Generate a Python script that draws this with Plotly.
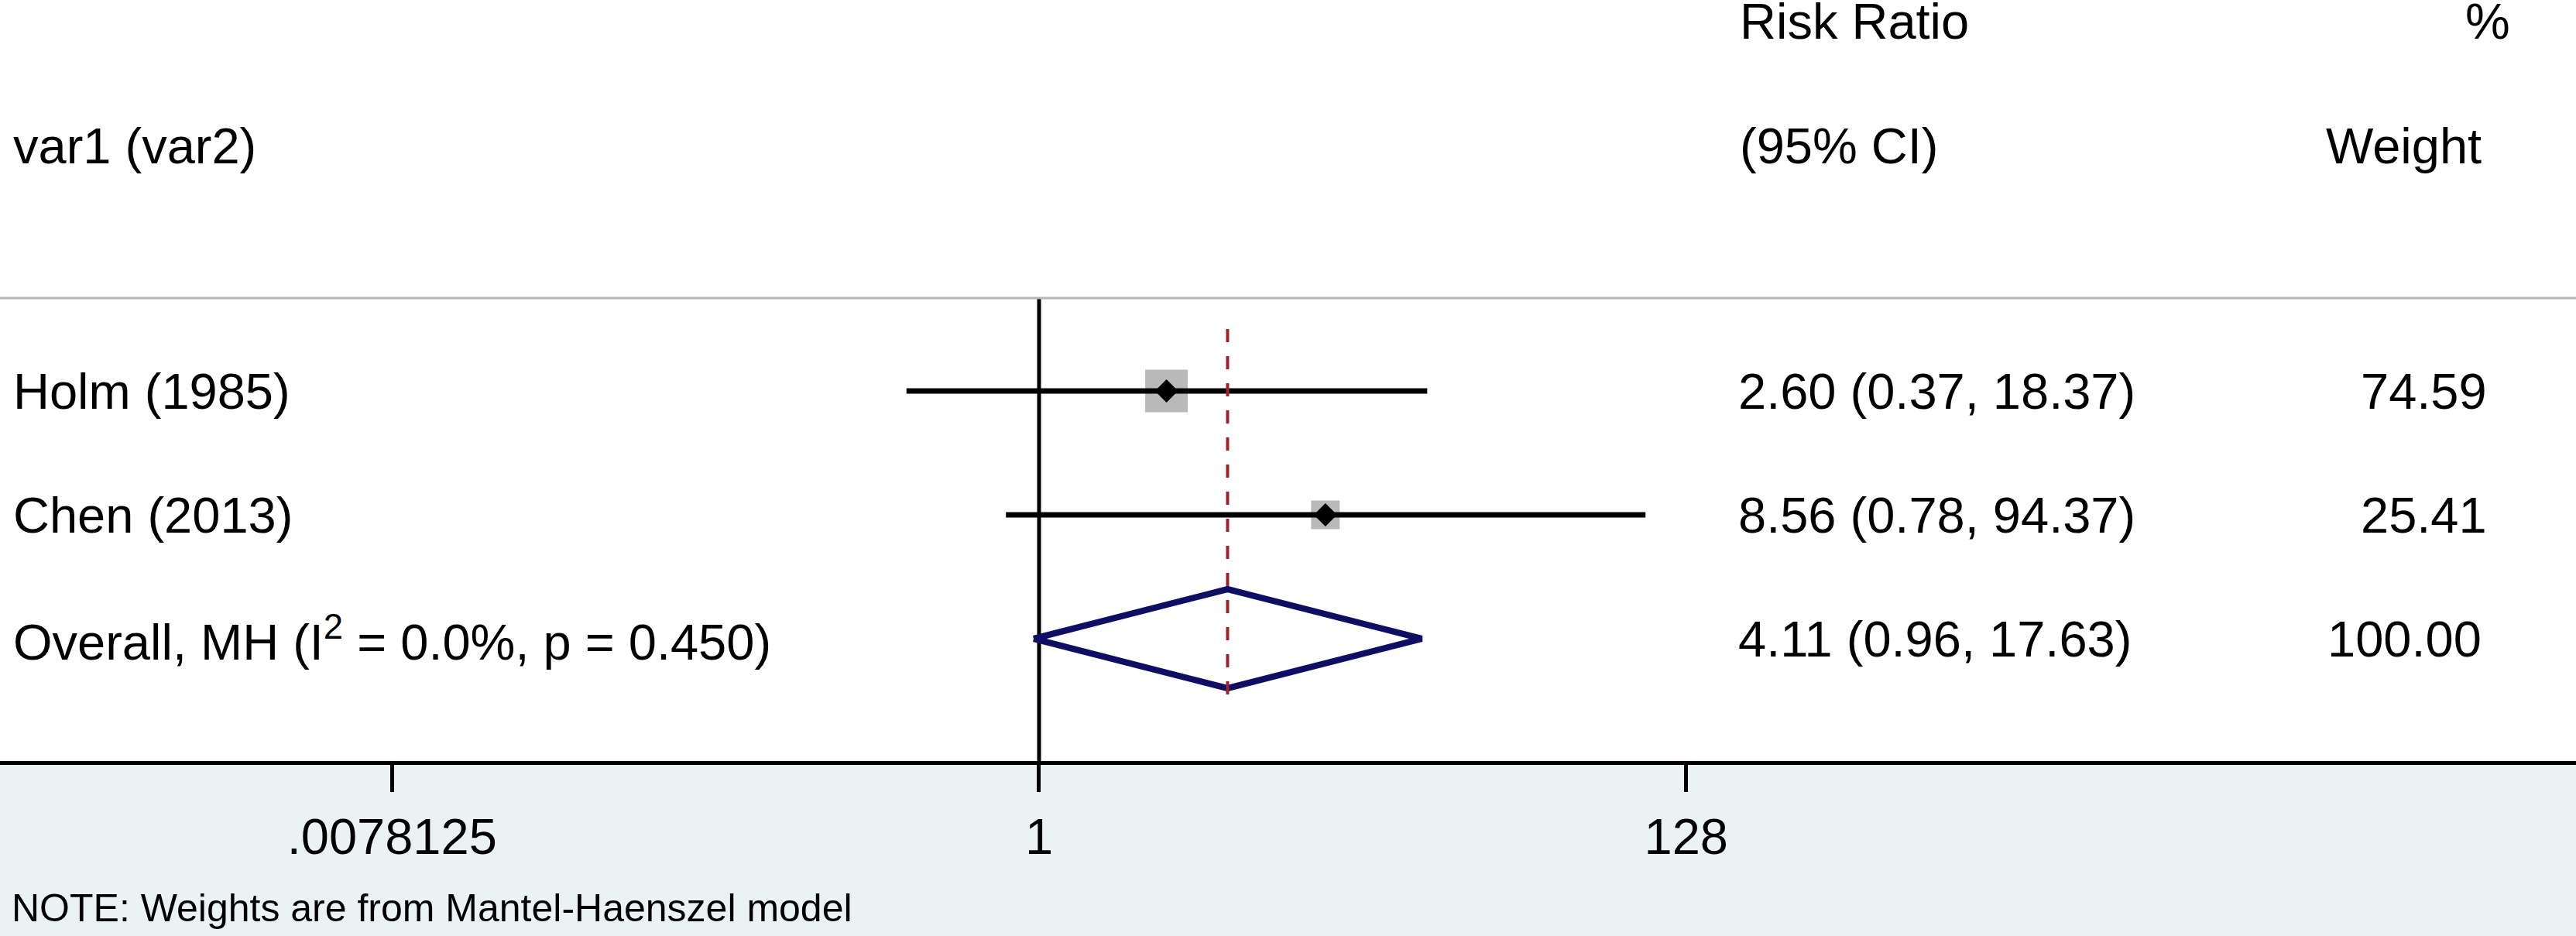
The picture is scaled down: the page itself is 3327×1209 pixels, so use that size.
import plotly.graph_objects as go

# ---------------- data ----------------
studies = ["Holm (1985)", "Chen (2013)"]
rr = [2.60, 8.56]
ci_low = [0.37, 0.78]
ci_high = [18.37, 94.37]
weights = [74.59, 25.41]

overall_label = "Overall, MH (I<sup>2</sup> = 0.0%, p = 0.450)"
overall_rr = 4.11
overall_low = 0.96
overall_high = 17.63
overall_weight = 100.00

tick_vals = [0.0078125, 1, 128]
tick_text = [".0078125", "1", "128"]

header_study = "var1 (var2)"
header_rr = ["Risk Ratio", "(95% CI)"]
header_wt = ["%", "Weight"]
note_text = "NOTE: Weights are from Mantel-Haenszel model"

# ---------------- layout constants ----------------
W, H = 3327, 1209
TOP, BOTTOM = 385, 983          # plot area in pixels
Y_MIN, Y_MAX = 0.0125, 3.75
X_RANGE = [-3.3837, 5.0050]     # log10
FONT = "Liberation Sans, Arial, sans-serif"
FS = 65
BG_LOW = "#EAF2F3"


def px(p):
    return p / W


def py(p):
    return (BOTTOM - p) / (BOTTOM - TOP)


n = len(studies)
rows = [n + 1 - i for i in range(n)]   # 3, 2
overall_row = 1

fig = go.Figure()

# weight boxes
fig.add_trace(go.Scatter(
    x=rr, y=rows, mode="markers",
    marker=dict(symbol="square", size=[55, 37], color="#B9B9B9", opacity=1,
                line=dict(width=0)),
    hoverinfo="skip", showlegend=False))

# CI lines
for i in range(n):
    fig.add_trace(go.Scatter(
        x=[ci_low[i], ci_high[i]], y=[rows[i], rows[i]], mode="lines",
        line=dict(color="black", width=7), hoverinfo="skip", showlegend=False))

# point estimates
fig.add_trace(go.Scatter(
    x=rr, y=rows, mode="markers",
    marker=dict(symbol="diamond", size=23, color="black", opacity=1, line=dict(width=0)),
    hoverinfo="skip", showlegend=False))

# null line at 1
fig.add_trace(go.Scatter(
    x=[1, 1], y=[Y_MIN, Y_MAX], mode="lines",
    line=dict(color="black", width=5), hoverinfo="skip", showlegend=False))

# overall diamond
h = 0.4
fig.add_trace(go.Scatter(
    x=[overall_low, overall_rr, overall_high, overall_rr, overall_low],
    y=[overall_row, overall_row + h, overall_row, overall_row - h, overall_row],
    mode="lines", line=dict(color="#0E0E66", width=8),
    hoverinfo="skip", showlegend=False))

# overall effect dashed line
fig.add_trace(go.Scatter(
    x=[overall_rr, overall_rr], y=[max(rows) + 0.5, overall_row - 0.5], mode="lines",
    line=dict(color="#A3202E", width=4, dash="17px,18px"),
    hoverinfo="skip", showlegend=False))

annotations = []


def add_text(text, x, y, xanchor, yref="paper", size=FS):
    annotations.append(dict(
        text=text, x=x, y=y, xref="paper", yref=yref,
        xanchor=xanchor, yanchor="middle", showarrow=False,
        font=dict(family=FONT, size=size, color="black")))


# headers
add_text(header_study, px(15), py(188), "left")
add_text(header_rr[0], px(2245), py(27), "left")
add_text(header_rr[1], px(2245), py(188), "left")
add_text(header_wt[0], px(3244), py(27), "right")
add_text(header_wt[1], px(3207), py(188), "right")

# study rows
for i in range(n):
    add_text(studies[i], px(15), rows[i], "left", yref="y")
    add_text(f"{rr[i]:.2f} ({ci_low[i]:.2f}, {ci_high[i]:.2f})", px(2243), rows[i], "left", yref="y")
    add_text(f"{weights[i]:.2f}", px(3214), rows[i], "right", yref="y")

add_text(overall_label, px(15), overall_row, "left", yref="y")
add_text(f"{overall_rr:.2f} ({overall_low:.2f}, {overall_high:.2f})", px(2243), overall_row, "left", yref="y")
add_text(f"{overall_weight:.2f}", px(3207), overall_row, "right", yref="y")

# note
add_text(note_text, px(13), py(1173), "left", size=50)

shapes = [
    # light background below the axis
    dict(type="rect", xref="paper", yref="paper", x0=0, x1=1, y0=py(H + 5), y1=0,
         fillcolor=BG_LOW, line=dict(width=0), layer="below"),
    # gray separator line at top of plot area
    dict(type="line", xref="paper", yref="paper", x0=0, x1=1, y0=1, y1=1,
         line=dict(color="#B5B5B5", width=3), layer="above"),
]

fig.update_layout(
    width=W, height=H,
    margin=dict(l=0, r=0, t=TOP, b=H - BOTTOM, pad=0),
    paper_bgcolor="white", plot_bgcolor="white",
    showlegend=False,
    annotations=annotations,
    shapes=shapes,
    xaxis=dict(
        type="log", range=X_RANGE, showgrid=False, zeroline=False,
        showline=True, linecolor="black", linewidth=5,
        ticks="outside", ticklen=35, tickwidth=5, tickcolor="black",
        tickvals=tick_vals, ticktext=tick_text,
        tickfont=dict(family=FONT, size=FS, color="black"),
        ticklabelstandoff=2, fixedrange=True),
    yaxis=dict(range=[Y_MIN, Y_MAX], visible=False, showgrid=False,
               zeroline=False, fixedrange=True),
)

fig.write_html(
    "out.html",
    config={"displayModeBar": False},
    post_script="document.body.style.margin='0';document.body.style.overflow='hidden';",
)
